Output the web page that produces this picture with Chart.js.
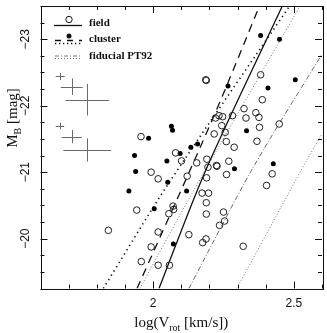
<!DOCTYPE html>
<html>
<head>
<meta charset="utf-8">
<script src="https://cdn.jsdelivr.net/npm/chart.js@4.4.0/dist/chart.umd.min.js"></script>
<style>
body { margin: 0; background: #fff; }
#wrap { width: 327px; height: 333px; position: relative; }
</style>
</head>
<body>
<div id="wrap"><canvas id="myChart"></canvas></div>
<script>
// field galaxies (open circles)
var fieldLogV = [1.841, 1.957, 1.942, 1.958, 1.993, 2.018, 1.993, 2.018, 2.018, 2.058,
    2.056, 2.071, 2.073, 2.080, 2.101, 2.121, 2.127, 2.155, 2.174, 2.176,
    2.187, 2.189, 2.188, 2.190, 2.189, 2.189, 2.191, 2.195, 2.197, 2.217,
    2.222, 2.227, 2.225, 2.234, 2.244, 2.247, 2.256, 2.260, 2.261, 2.236,
    2.250, 2.254, 2.269, 2.282, 2.288, 2.320, 2.323, 2.330, 2.365, 2.369,
    2.376, 2.378, 2.382, 2.388, 2.403, 2.423, 2.448];
var fieldMag = [-20.125, -21.535, -20.43, -19.655, -21.0, -20.9, -19.875, -20.1, -19.6, -19.6,
    -20.375, -20.49, -20.44, -21.29, -21.17, -20.94, -20.06, -21.14, -20.685, -19.94,
    -22.39, -22.38, -19.995, -20.915, -20.54, -20.37, -21.195, -21.075, -20.685, -21.575,
    -21.815, -21.09, -21.10, -21.85, -21.70, -21.835, -21.60, -21.46, -20.965, -20.20,
    -20.40, -20.265, -21.165, -21.85, -21.375, -19.885, -21.955, -21.815, -21.895, -21.465,
    -21.825, -21.675, -22.465, -22.09, -20.80, -20.975, -21.725];

// cluster galaxies (filled circles)
var clusterLogV = [1.914, 1.934, 1.938, 1.984, 2.004, 2.049, 2.052, 2.065, 2.069, 2.096,
    2.119, 2.134, 2.158, 2.072, 2.266, 2.289, 2.332, 2.382, 2.408, 2.427, 2.449, 2.505];
var clusterMag = [-20.715, -21.25, -21.01, -21.51, -20.45, -21.17, -20.85, -21.69, -21.63, -21.28,
    -20.715, -21.375, -21.425, -19.92, -22.295, -21.05, -21.625, -23.055, -22.265, -21.125, -23.0, -22.39];

// fitted relations
var fieldFitX = [2.021, 2.184, 2.459];
var fieldFitY = [-19.25, -21.0, -23.5];
var clusterFitX = [1.943, 2.214, 2.378];
var clusterFitY = [-19.25, -21.825, -23.5];
var clusterFit2X = [1.823, 2.054, 2.485];
var clusterFit2Y = [-19.25, -20.825, -23.5];
var pt92X = [2.127, 2.356, 2.6];
var pt92Y = [-19.25, -21.075, -22.775];
var pt92LowX = [1.953, 2.131, 2.522];
var pt92LowY = [-19.25, -20.625, -23.5];
var pt92HighX = [2.297, 2.545, 2.6];
var pt92HighY = [-19.25, -21.175, -21.575];

// typical error bars (two groups of three crosses)
var errLogV = [1.670, 1.711, 1.766, 1.669, 1.711, 1.766];
var errMag = [-22.44, -22.285, -22.09, -21.695, -21.535, -21.335];
var errLogVsize = [0.016, 0.039, 0.077, 0.015, 0.036, 0.085];
var errMagSize = [0.055, 0.125, 0.237, 0.05, 0.10, 0.175];

var legendLabels = ["field", "cluster", "fiducial PT92"];
var xTickLabels = [2, 2.5];
var yTickLabels = [-23, -22, -21, -20];

function pts(xs, ys) {
    var out = [];
    for (var i = 0; i < xs.length; i++) {
        out.push({ x: xs[i], y: ys[i] });
    }
    return out;
}

function lineSet(xs, ys, color, width, dash) {
    return {
        type: 'line',
        data: pts(xs, ys),
        borderColor: color,
        borderWidth: width,
        borderDash: dash,
        pointRadius: 0,
        tension: 0.3,
        fill: false
    };
}

var serif = "'Liberation Serif', 'DejaVu Serif', serif";
var sans = "'Liberation Sans', Arial, sans-serif";

var decorations = {
    id: 'decorations',
    beforeDatasetsDraw: function (chart) {
        var ctx = chart.ctx;
        var xs = chart.scales.x, ys = chart.scales.y;
        ctx.save();
        ctx.strokeStyle = '#6a6a6a';
        ctx.lineWidth = 1;
        for (var i = 0; i < errLogV.length; i++) {
            var cx = xs.getPixelForValue(errLogV[i]);
            var cy = ys.getPixelForValue(errMag[i]);
            var x1 = xs.getPixelForValue(errLogV[i] - errLogVsize[i]);
            var x2 = xs.getPixelForValue(errLogV[i] + errLogVsize[i]);
            var y1 = ys.getPixelForValue(errMag[i] - errMagSize[i]);
            var y2 = ys.getPixelForValue(errMag[i] + errMagSize[i]);
            ctx.beginPath();
            ctx.moveTo(x1, Math.round(cy) + 0.5);
            ctx.lineTo(x2, Math.round(cy) + 0.5);
            ctx.moveTo(Math.round(cx) + 0.5, y1);
            ctx.lineTo(Math.round(cx) + 0.5, y2);
            ctx.stroke();
        }
        ctx.restore();
    },
    afterDatasetsDraw: function (chart) {
        var ctx = chart.ctx;
        var a = chart.chartArea;
        var xs = chart.scales.x, ys = chart.scales.y;
        ctx.save();
        ctx.strokeStyle = '#111';
        ctx.lineWidth = 1;
        ctx.strokeRect(Math.round(a.left) + 0.5, Math.round(a.top) + 0.5,
            Math.round(a.right - a.left), Math.round(a.bottom - a.top));

        // inward ticks on all four sides
        ctx.beginPath();
        xs.ticks.forEach(function (t) {
            var v = t.value;
            var major = Math.abs(v * 2 - Math.round(v * 2)) < 1e-6;
            var len = major ? 7 : 4;
            var px = Math.round(xs.getPixelForValue(v)) + 0.5;
            ctx.moveTo(px, a.bottom);
            ctx.lineTo(px, a.bottom - len);
            ctx.moveTo(px, a.top);
            ctx.lineTo(px, a.top + len);
        });
        ys.ticks.forEach(function (t) {
            var v = t.value;
            var major = Math.abs(v - Math.round(v)) < 1e-6;
            var len = major ? 7 : 4;
            var py = Math.round(ys.getPixelForValue(v)) + 0.5;
            ctx.moveTo(a.left, py);
            ctx.lineTo(a.left + len, py);
            ctx.moveTo(a.right, py);
            ctx.lineTo(a.right - len, py);
        });
        ctx.stroke();

        // tick labels
        ctx.fillStyle = '#111';
        ctx.font = '12px ' + sans;
        ctx.textAlign = 'center';
        ctx.textBaseline = 'middle';
        xTickLabels.forEach(function (v) {
            ctx.fillText(String(v), xs.getPixelForValue(v), a.bottom + 15);
        });
        yTickLabels.forEach(function (v) {
            ctx.save();
            ctx.translate(a.left - 15, ys.getPixelForValue(v));
            ctx.rotate(-Math.PI / 2);
            ctx.fillText('\u2212' + Math.abs(v), 0, 0);
            ctx.restore();
        });

        // axis titles
        ctx.textAlign = 'left';
        ctx.textBaseline = 'alphabetic';
        var subFont = '10px ' + serif;
        function titleWidth(parts) {
            var w = 0;
            parts.forEach(function (p) {
                ctx.font = p.sub ? subFont : '15px ' + serif;
                w += ctx.measureText(p.t).width;
            });
            return w;
        }
        function drawParts(parts, x, y) {
            parts.forEach(function (p) {
                ctx.font = p.sub ? subFont : '15px ' + serif;
                ctx.fillText(p.t, x, p.sub ? y + 4 : y);
                x += ctx.measureText(p.t).width;
            });
        }
        var xTitle = [{ t: 'log(V' }, { t: 'rot', sub: true }, { t: ' [km/s])' }];
        var w = titleWidth(xTitle);
        drawParts(xTitle, (a.left + a.right) / 2 - w / 2, 327);

        var yTitle = [{ t: 'M' }, { t: 'B', sub: true }, { t: ' [mag]' }];
        w = titleWidth(yTitle);
        ctx.save();
        ctx.translate(17, 118);
        ctx.rotate(-Math.PI / 2);
        drawParts(yTitle, -w / 2, 0);
        ctx.restore();

        // legend
        ctx.font = 'bold 11px ' + serif;
        ctx.fillText(legendLabels[0], 89, 26);
        ctx.fillText(legendLabels[1], 89, 42);
        ctx.fillText(legendLabels[2], 89, 59);

        ctx.strokeStyle = '#111';
        ctx.lineWidth = 1.3;
        ctx.beginPath();
        ctx.moveTo(54, 25.5);
        ctx.lineTo(82, 25.5);
        ctx.stroke();
        ctx.lineWidth = 1;
        ctx.beginPath();
        ctx.arc(69, 19.5, 3.2, 0, Math.PI * 2);
        ctx.stroke();

        ctx.lineWidth = 1.3;
        ctx.setLineDash([6, 6]);
        ctx.beginPath();
        ctx.moveTo(55, 40.5);
        ctx.lineTo(82, 40.5);
        ctx.stroke();
        ctx.setLineDash([1.3, 2.7]);
        ctx.beginPath();
        ctx.moveTo(55, 43.5);
        ctx.lineTo(82, 43.5);
        ctx.stroke();
        ctx.setLineDash([]);
        ctx.fillStyle = '#111';
        ctx.beginPath();
        ctx.arc(69, 36, 2.5, 0, Math.PI * 2);
        ctx.fill();

        ctx.strokeStyle = '#555';
        ctx.lineWidth = 0.8;
        ctx.setLineDash([4, 2, 1, 2]);
        ctx.beginPath();
        ctx.moveTo(55, 56);
        ctx.lineTo(82, 56);
        ctx.stroke();
        ctx.setLineDash([1, 2]);
        ctx.beginPath();
        ctx.moveTo(55, 58.5);
        ctx.lineTo(82, 58.5);
        ctx.stroke();
        ctx.restore();
    }
};

var ctx = document.getElementById('myChart').getContext('2d');
var chart = new Chart(ctx, {
    type: 'scatter',
    data: {
        datasets: [{
            label: legendLabels[0],
            data: pts(fieldLogV, fieldMag),
            pointStyle: 'circle',
            pointRadius: 3.3,
            borderWidth: 1,
            borderColor: '#222',
            backgroundColor: 'rgba(0,0,0,0)'
        }, {
            label: legendLabels[1],
            data: pts(clusterLogV, clusterMag),
            pointStyle: 'circle',
            pointRadius: 2.5,
            borderWidth: 0,
            backgroundColor: '#000'
        },
            lineSet(fieldFitX, fieldFitY, '#111', 1.3, []),
            lineSet(clusterFitX, clusterFitY, '#111', 1.3, [8, 6]),
            lineSet(clusterFit2X, clusterFit2Y, '#111', 1.6, [1.3, 3.7]),
            lineSet(pt92X, pt92Y, '#444', 0.8, [5, 2, 1, 2]),
            lineSet(pt92LowX, pt92LowY, '#555', 0.8, [1, 2]),
            lineSet(pt92HighX, pt92HighY, '#555', 0.8, [1, 2])
        ]
    },
    options: {
        responsive: true,
        maintainAspectRatio: false,
        animation: false,
        layout: { padding: { top: 6, right: 5, left: 0, bottom: 0 } },
        plugins: { legend: { display: false }, tooltip: { enabled: false } },
        scales: {
            x: {
                type: 'linear',
                min: 1.6,
                max: 2.6,
                ticks: { display: false, stepSize: 0.1 },
                grid: { display: false, drawTicks: false },
                border: { display: false },
                afterFit: function (scale) { scale.height = 44.5; }
            },
            y: {
                type: 'linear',
                reverse: true,
                min: -23.5,
                max: -19.25,
                ticks: { display: false, stepSize: 0.25 },
                grid: { display: false, drawTicks: false },
                border: { display: false },
                afterFit: function (scale) { scale.width = 40.5; }
            }
        }
    },
    plugins: [decorations]
});
</script>
</body>
</html>
